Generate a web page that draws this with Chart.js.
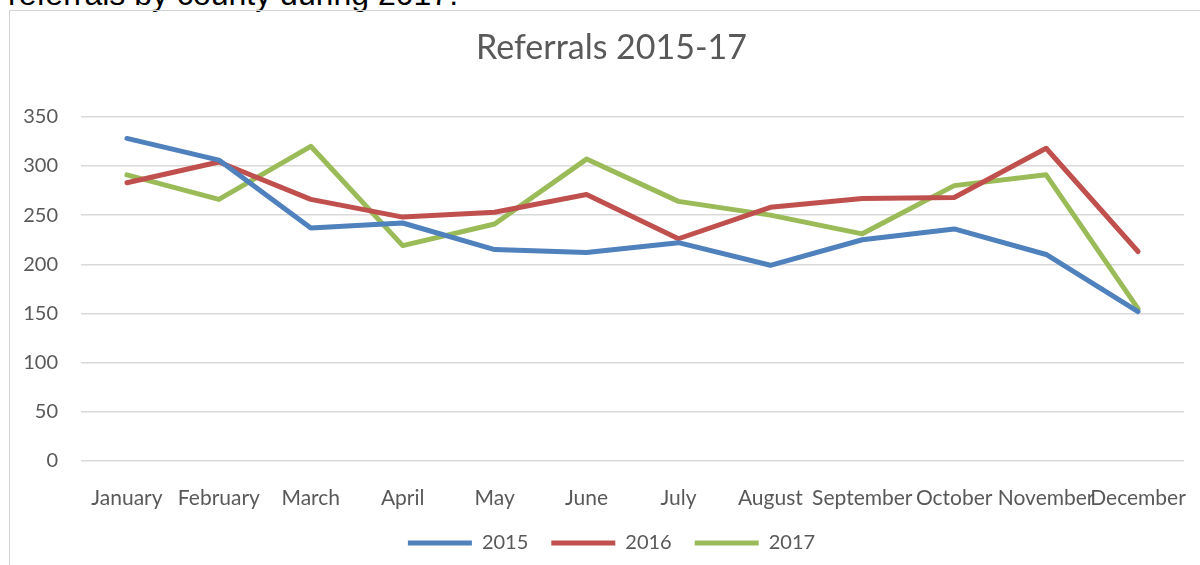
<!DOCTYPE html>
<html>
<head>
<meta charset="utf-8">
<script src="https://cdn.jsdelivr.net/npm/chart.js@4/dist/chart.umd.min.js"></script>
<style>
    html, body { margin: 0; padding: 0; background: #fff; overflow: hidden; }
    body { width: 1200px; height: 565px; position: relative; }
    .lead {
        position: absolute; left: 8px; top: -22px;
        font: 32px/32px "Liberation Sans", Arial, sans-serif; color: #000;
        white-space: nowrap;
    }
    .frame {
        position: absolute; left: 9px; top: 10px;
        width: 1203px; height: 560px;
        border-left: 1px solid #d4d4d4; border-top: 1px solid #d4d4d4;
    }
</style>
</head>
<body>
<div class="lead">referrals by county during 2017.</div>
<div class="frame"><canvas id="referralsChart" width="1203" height="560"></canvas></div>
<script>
// Chart data
const months = ['January', 'February', 'March', 'April', 'May', 'June', 'July',
    'August', 'September', 'October', 'November', 'December'];
const referrals2015 = [328, 306, 237, 242, 215, 212, 222, 199, 225, 236, 210, 152];
const referrals2016 = [283, 304, 266, 248, 253, 271, 226, 258, 267, 268, 318, 213];
const referrals2017 = [291, 266, 320, 219, 241, 307, 264, 250, 231, 280, 291, 155];
const yTicks = [0, 50, 100, 150, 200, 250, 300, 350];

document.addEventListener('DOMContentLoaded', function() {
    const font = 'Lato, "Open Sans", sans-serif';
    const grey = '#595959';

    const makeSeries = function(label, data, colour) {
        return {
            label: label,
            data: data,
            borderColor: colour,
            backgroundColor: colour,
            borderWidth: 5,
            tension: 0,
            pointRadius: 0,
            pointHoverRadius: 0,
            pointStyle: 'line',
            borderCapStyle: 'round',
            borderJoinStyle: 'round',
            fill: false
        };
    };

    // title and legend sit centred on the whole frame, a bit right of the plot
    const nudgeBlocks = {
        id: 'nudgeBlocks',
        afterLayout: function(chart) {
            [chart.titleBlock, chart.legend].forEach(function(box) {
                if (box) {
                    box.left += 8;
                    box.right += 8;
                }
            });
        }
    };

    const ctx = document.getElementById('referralsChart').getContext('2d');
    new Chart(ctx, {
        type: 'line',
        data: {
            labels: months,
            datasets: [
                makeSeries('2015', referrals2015, '#4F81BD'),
                makeSeries('2016', referrals2016, '#C0504D'),
                makeSeries('2017', referrals2017, '#9BBB59')
            ]
        },
        plugins: [nudgeBlocks],
        options: {
            responsive: false,
            animation: false,
            layout: {
                padding: { left: 13, right: 29, top: 0, bottom: 8 }
            },
            plugins: {
                title: {
                    display: true,
                    text: 'Referrals 2015-17',
                    color: grey,
                    font: { family: font, size: 34, weight: 'normal' },
                    padding: { top: 17, bottom: 48 }
                },
                legend: {
                    position: 'bottom',
                    labels: {
                        usePointStyle: true,
                        pointStyleWidth: 64,
                        color: grey,
                        padding: 23,
                        font: { family: font, size: 20 }
                    }
                },
                tooltip: { enabled: false }
            },
            scales: {
                x: {
                    offset: true,
                    grid: { display: false, drawTicks: false },
                    border: { display: false },
                    afterFit: function(axis) { axis.height = 49; },
                    ticks: {
                        autoSkip: false,
                        maxRotation: 0,
                        minRotation: 0,
                        padding: 25,
                        color: grey,
                        font: { family: font, size: 21 }
                    }
                },
                y: {
                    min: 0,
                    max: 350,
                    afterBuildTicks: function(axis) {
                        axis.ticks = yTicks.map(function(v) { return { value: v }; });
                    },
                    afterFit: function(axis) { axis.width = 58; },
                    grid: { color: '#d9d9d9', lineWidth: 1.5, drawTicks: false },
                    border: { display: false },
                    ticks: {
                        padding: 23,
                        color: grey,
                        font: { family: font, size: 20 }
                    }
                }
            }
        }
    });
});
</script>
</body>
</html>
